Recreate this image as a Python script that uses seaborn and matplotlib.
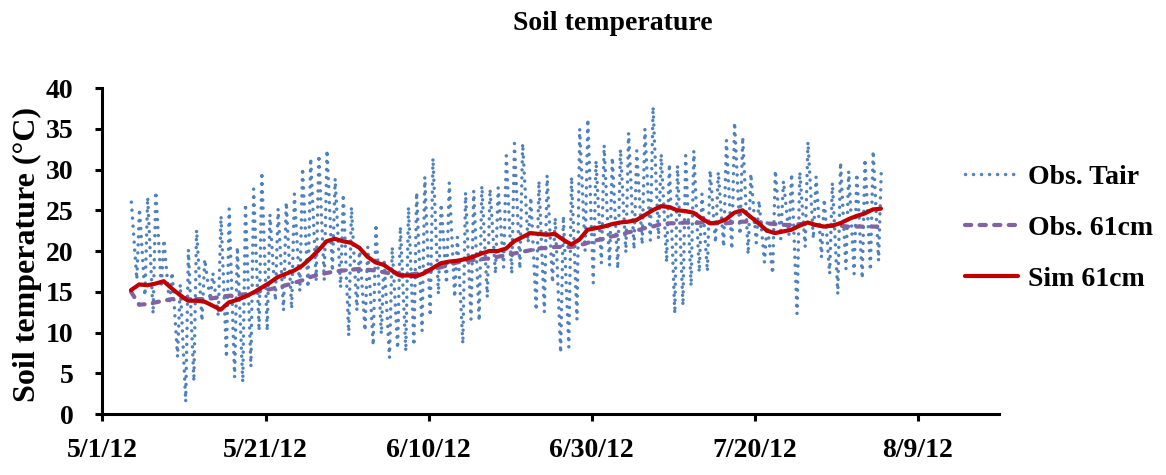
import numpy as np
import pandas as pd
import matplotlib
matplotlib.use("Agg")
import matplotlib.pyplot as plt
from matplotlib.ticker import FuncFormatter, MultipleLocator
import seaborn as sns

# ---- data -----------------------------------------------------------------
first_day = "2012-05-04"

# daily air temperature maxima (°C), 5/4/12 .. 8/5/12
tair_max = [
    26.0, 25.2, 26.6, 27.3, 21.4, 17.4, 15.9, 20.2, 22.6, 19.0,
    17.3, 24.3, 25.2, 20.5, 25.8, 27.6, 29.7, 24.5, 25.2, 26.0,
    27.0, 30.2, 31.4, 31.8, 32.4, 28.9, 27.0, 25.4, 20.5, 20.5,
    23.3, 19.0, 20.5, 23.0, 25.4, 27.2, 29.1, 31.4, 25.8, 28.4,
    21.7, 27.2, 27.4, 28.0, 27.6, 27.8, 31.7, 33.2, 33.2, 26.6,
    28.6, 29.3, 24.1, 24.3, 29.1, 35.0, 36.2, 31.1, 33.0, 31.5,
    32.5, 34.5, 32.3, 35.0, 37.7, 31.9, 30.7, 30.5, 31.7, 32.3,
    27.0, 29.9, 29.7, 33.6, 35.8, 34.0, 29.5, 26.2, 23.5, 29.9,
    28.6, 29.5, 29.7, 33.4, 29.1, 26.4, 28.4, 30.9, 29.8, 29.5,
    31.3, 32.3, 29.9,
]

# early-morning air temperature minima (°C), 5/5/12 .. 8/5/12
tair_min = [
    16.5, 14.5, 12.3, 15.5, 13.5, 7.0, 1.5, 4.0, 11.4, 14.0,
    12.0, 6.9, 4.5, 3.9, 5.8, 10.2, 10.2, 13.9, 12.7, 12.9,
    15.1, 15.5, 16.4, 16.4, 17.5, 15.5, 9.6, 12.7, 10.2, 8.4,
    9.8, 6.9, 8.0, 7.7, 8.4, 10.2, 12.0, 14.7, 16.0, 14.3,
    8.6, 11.6, 11.4, 14.3, 17.2, 18.0, 17.2, 17.8, 21.0, 12.7,
    12.5, 16.1, 7.5, 8.2, 11.6, 20.0, 16.1, 18.5, 18.2, 17.8,
    19.8, 20.2, 20.8, 21.3, 21.5, 18.6, 12.3, 13.3, 15.7, 17.4,
    17.5, 21.0, 20.5, 20.2, 22.0, 19.6, 21.0, 18.6, 17.2, 21.5,
    22.0, 12.3, 20.5, 21.5, 19.2, 17.2, 14.7, 17.8, 17.2, 16.6,
    17.6, 18.8,
]

# soil temperature at 61 cm (°C), daily at noon, 5/4/12 .. 8/5/12
obs_61cm = [
    15.0, 13.4, 13.5, 13.7, 13.9, 14.1, 14.2, 14.2, 14.1, 14.1,
    14.2, 14.4, 14.5, 14.6, 14.7, 14.9, 15.1, 15.3, 15.5, 15.8,
    16.1, 16.4, 16.8, 17.1, 17.3, 17.5, 17.6, 17.7, 17.8, 17.7,
    17.6, 17.4, 17.2, 17.1, 17.1, 17.2, 17.5, 17.7, 18.0, 18.3,
    18.6, 18.8, 18.9, 19.0, 19.1, 19.3, 19.5, 19.7, 19.9, 20.1,
    20.3, 20.4, 20.5, 20.5, 20.5, 20.7, 21.0, 21.3, 21.5, 21.8,
    22.0, 22.3, 22.5, 22.8, 23.0, 23.3, 23.4, 23.4, 23.5, 23.4,
    23.5, 23.4, 23.4, 23.4, 23.5, 23.6, 23.6, 23.5, 23.4, 23.3,
    23.2, 23.2, 23.3, 23.3, 23.2, 23.1, 23.1, 23.1, 23.0, 23.0,
    23.0, 23.0, 23.0,
]
sim_61cm = [
    15.2, 15.9, 15.8, 16.0, 16.3, 15.4, 14.6, 13.9, 13.9, 13.8,
    13.3, 12.8, 13.7, 14.0, 14.4, 14.9, 15.5, 16.1, 16.8, 17.2,
    17.6, 18.2, 19.1, 20.1, 21.2, 21.5, 21.2, 21.0, 20.4, 19.3,
    18.6, 18.3, 17.6, 17.0, 17.0, 16.9, 17.3, 17.9, 18.5, 18.7,
    18.8, 19.0, 19.3, 19.7, 20.0, 20.0, 20.3, 21.2, 21.7, 22.2,
    22.1, 22.0, 22.1, 21.4, 20.8, 21.4, 22.6, 22.8, 23.0, 23.3,
    23.5, 23.6, 23.8, 24.4, 25.0, 25.5, 25.4, 25.0, 24.9, 24.7,
    24.0, 23.4, 23.5, 23.9, 24.7, 25.0, 24.2, 23.4, 22.5, 22.2,
    22.4, 22.6, 23.1, 23.5, 23.2, 23.0, 23.1, 23.4, 23.9, 24.3,
    24.6, 25.1, 25.2,
]

tick_dates = ["2012-05-01", "2012-05-21", "2012-06-10",
              "2012-06-30", "2012-07-20", "2012-08-09"]
x_range = ["2012-05-01", "2012-08-19"]

# ---- tables ---------------------------------------------------------------
days = pd.date_range(first_day, periods=len(tair_max), freq="D")
air_time, air_val = [days[0] + pd.Timedelta(hours=13)], [tair_max[0]]
for i in range(1, len(tair_max)):
    air_time += [days[i] + pd.Timedelta(hours=5), days[i] + pd.Timedelta(hours=13)]
    air_val += [tair_min[i - 1], tair_max[i]]
air = pd.DataFrame({"time": air_time, "temp": air_val})

soil = pd.DataFrame({
    "time": days + pd.Timedelta(hours=12),
    "obs": obs_61cm,
    "sim": sim_61cm,
})

# ---- style ----------------------------------------------------------------
sns.set_style("ticks")
plt.rcParams["font.family"] = ["Liberation Serif", "DejaVu Serif"]
plt.rcParams["font.weight"] = "bold"
for key in ("text.color", "axes.labelcolor", "xtick.color", "ytick.color",
            "axes.edgecolor"):
    plt.rcParams[key] = "black"

fig = plt.figure(figsize=(11.66, 4.75), dpi=100)
ax = fig.add_axes([0.0879, 0.1284, 0.7690, 0.6863])

blue, purple, red = "#4F81BD", "#8064A2", "#C00000"

sns.lineplot(data=air, x="time", y="temp", ax=ax, color=blue, lw=2.5,
             linestyle=(0, (0.01, 2.3)), dash_capstyle="round",
             sort=False, estimator=None, label="Obs. Tair")
sns.lineplot(data=soil, x="time", y="obs", ax=ax, color=purple, lw=3.0,
             linestyle=(0, (1.5, 2.0)), dash_capstyle="round",
             sort=False, estimator=None, label="Obs. 61cm")
sns.lineplot(data=soil, x="time", y="sim", ax=ax, color=red, lw=3.0,
             sort=False, estimator=None, label="Sim 61cm")

# ---- axes -----------------------------------------------------------------
ax.set_xlim(pd.Timestamp(x_range[0]), pd.Timestamp(x_range[1]))
ax.set_ylim(0, 40)
ax.set_xticks([pd.Timestamp(d) for d in tick_dates])
ax.xaxis.set_major_formatter(FuncFormatter(
    lambda v, p: (lambda d: f"{d.month}/{d.day}/{d.year % 100}")(
        matplotlib.dates.num2date(v))))
ax.yaxis.set_major_locator(MultipleLocator(5))

for side in ("top", "right"):
    ax.spines[side].set_visible(False)
for side in ("left", "bottom"):
    ax.spines[side].set_linewidth(2.2)
    ax.spines[side].set_color("black")

ax.tick_params(axis="both", direction="out", width=2.2, length=5,
               color="black", labelcolor="black", labelsize=20)
ax.tick_params(axis="y", pad=16)
ax.tick_params(axis="x", pad=12)
for lab in ax.get_xticklabels() + ax.get_yticklabels():
    lab.set_fontweight("bold")

ax.set_xlabel("")
ax.set_ylabel("Soil temperature (°C)", fontsize=23, fontweight="bold",
              color="black")
ax.yaxis.set_label_coords(-0.068, 0.49)

fig.text(613 / 1166, 1 - 23 / 475, "Soil temperature", ha="center",
         va="center", fontsize=20, fontweight="bold", color="black")

leg = ax.legend(loc="center left", bbox_to_anchor=(965 / 1166, 1 - 228 / 475),
                bbox_transform=fig.transFigure, frameon=False,
                borderpad=0, borderaxespad=0, handlelength=1.9,
                handletextpad=0.35, labelspacing=0.92,
                prop={"size": 20, "weight": "bold"})
for t in leg.get_texts():
    t.set_color("black")

fig.savefig("out.png", dpi=100)
